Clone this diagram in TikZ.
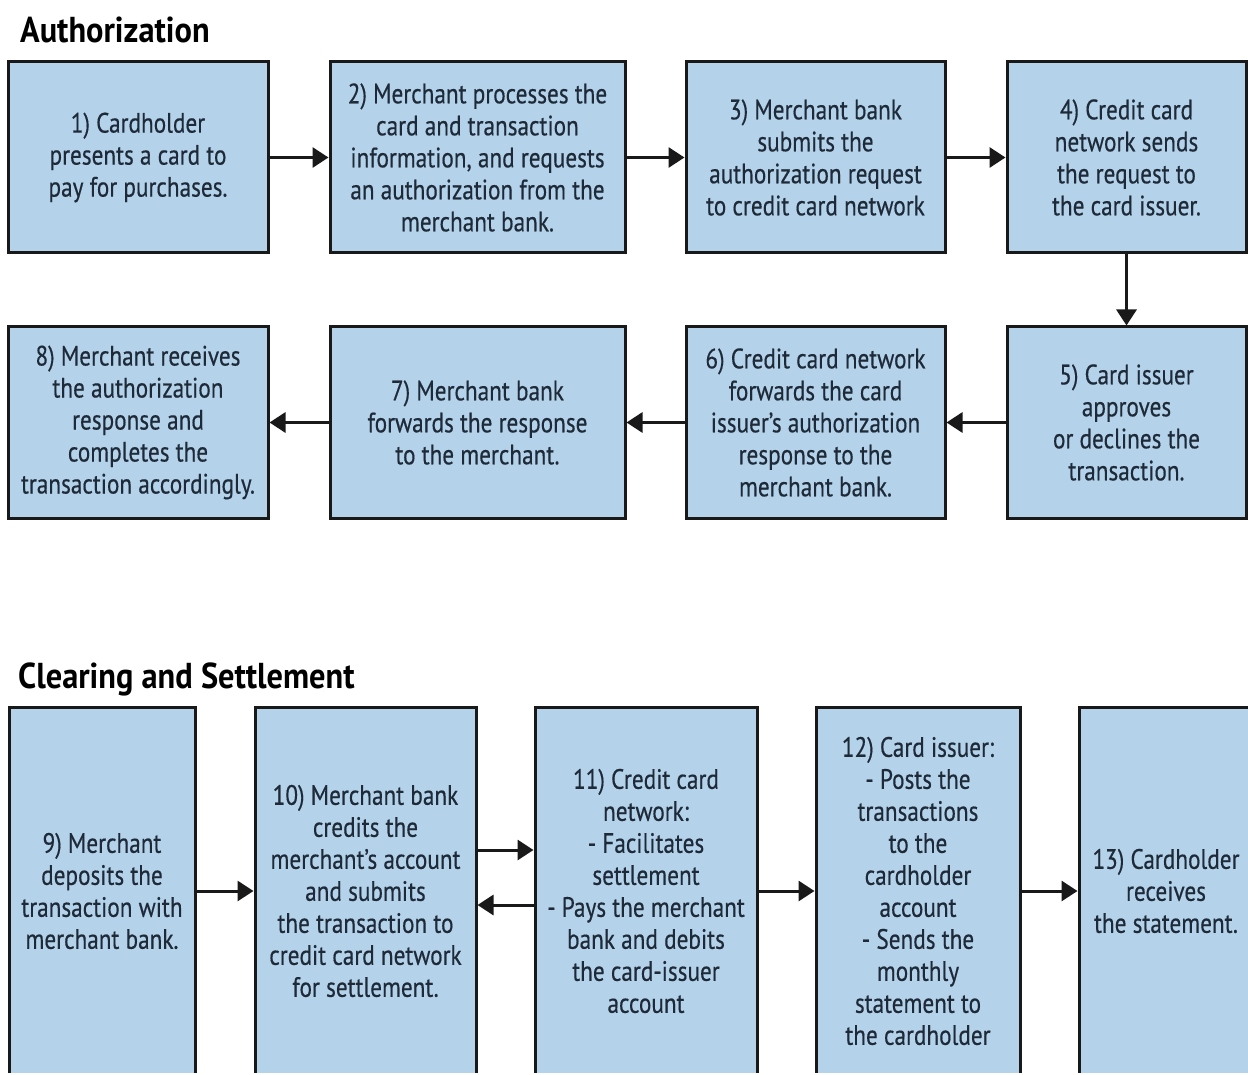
\documentclass[tikz,border=0pt]{standalone}
\usepackage{fontspec}
\setmainfont[FakeStretch=0.83,FakeBold=0.4]{PT Sans}
\newfontfamily\headfont[FakeStretch=0.9]{PT Sans Bold}
\usetikzlibrary{arrows.meta}
\definecolor{boxfill}{RGB}{180,211,234}
\definecolor{boxtext}{RGB}{30,42,56}
\definecolor{boxline}{RGB}{25,25,25}
\tikzset{
  stepbox/.style={draw=boxline, line width=3pt, fill=boxfill, text=boxtext, align=center,
    inner sep=0pt, font=\fontsize{28}{32}\selectfont},
  flow/.style={line width=3pt, draw=boxline, -{Triangle[length=16pt,width=20pt]}},
  heading/.style={anchor=base west, inner sep=0pt, font=\fontsize{36}{40}\headfont, text=black}
}
\begin{document}
\begin{tikzpicture}[x=1pt,y=-1pt]
\useasboundingbox (0,0) rectangle (1248,1075);
\fill[white] (0,0) rectangle (1248,1075);
\clip (0,0) rectangle (1248,1072);

\node[heading] (h1) at (20,43) {Authorization};
\node[heading] (h2) at (18,688) {Clearing and Settlement};

% Row 1
\node[stepbox, minimum width=260pt, minimum height=191pt] (b1) at (138,157.5)
  {1) Cardholder\\presents a card to\\pay for purchases.};
\node[stepbox, minimum width=295pt, minimum height=191pt] (b2) at (477.5,157.5)
  {2) Merchant processes the\\card and transaction\\information, and requests\\an authorization from the\\merchant bank.};
\node[stepbox, minimum width=259pt, minimum height=191pt] (b3) at (815.5,157.5)
  {3) Merchant bank\\submits the\\authorization request\\to credit card network};
\node[stepbox, minimum width=239pt, minimum height=191pt] (b4) at (1126.5,157.5)
  {4) Credit card\\network sends\\the request to\\the card issuer.};

% Row 2
\node[stepbox, minimum width=239pt, minimum height=191pt] (b5) at (1126.5,422.5)
  {5) Card issuer\\approves\\or declines the\\transaction.};
\node[stepbox, minimum width=259pt, minimum height=191pt] (b6) at (815.5,422.5)
  {6) Credit card network\\forwards the card\\issuer’s authorization\\response to the\\merchant bank.};
\node[stepbox, minimum width=295pt, minimum height=191pt] (b7) at (477.5,422.5)
  {7) Merchant bank\\forwards the response\\to the merchant.};
\node[stepbox, minimum width=260pt, minimum height=191pt] (b8) at (138,422.5)
  {8) Merchant receives\\the authorization\\response and\\completes the\\transaction accordingly.};

% Row 3
\node[stepbox, minimum width=186pt, minimum height=368pt] (b9) at (102,891)
  {9) Merchant\\deposits the\\transaction with\\merchant bank.};
\node[stepbox, minimum width=221pt, minimum height=368pt] (b10) at (365.5,891)
  {10) Merchant bank\\credits the\\merchant’s account\\and submits\\the transaction to\\credit card network\\for settlement.};
\node[stepbox, minimum width=222pt, minimum height=368pt] (b11) at (646,891)
  {11) Credit card\\network:\\- Facilitates\\settlement\\- Pays the merchant\\bank and debits\\the card-issuer\\account};
\node[stepbox, minimum width=204pt, minimum height=368pt] (b12) at (918,891)
  {12) Card issuer:\\- Posts the\\transactions\\to the\\cardholder\\account\\- Sends the\\monthly\\statement to\\the cardholder};
\node[stepbox, minimum width=174pt, minimum height=368pt] (b13) at (1166,891)
  {13) Cardholder\\receives\\the statement.};

% Connectors
\draw[flow] (b1) -- (b2);
\draw[flow] (b2) -- (b3);
\draw[flow] (b3) -- (b4);
\draw[flow] (b4) -- (b5);
\draw[flow] (b5) -- (b6);
\draw[flow] (b6) -- (b7);
\draw[flow] (b7) -- (b8);
\draw[flow] (b9) -- (b10);
\draw[flow] ([yshift=41pt]b10.east) -- ([yshift=41pt]b11.west);
\draw[flow] ([yshift=-14pt]b11.west) -- ([yshift=-14pt]b10.east);
\draw[flow] (b11) -- (b12);
\draw[flow] (b12) -- (b13);
\end{tikzpicture}
\end{document}
